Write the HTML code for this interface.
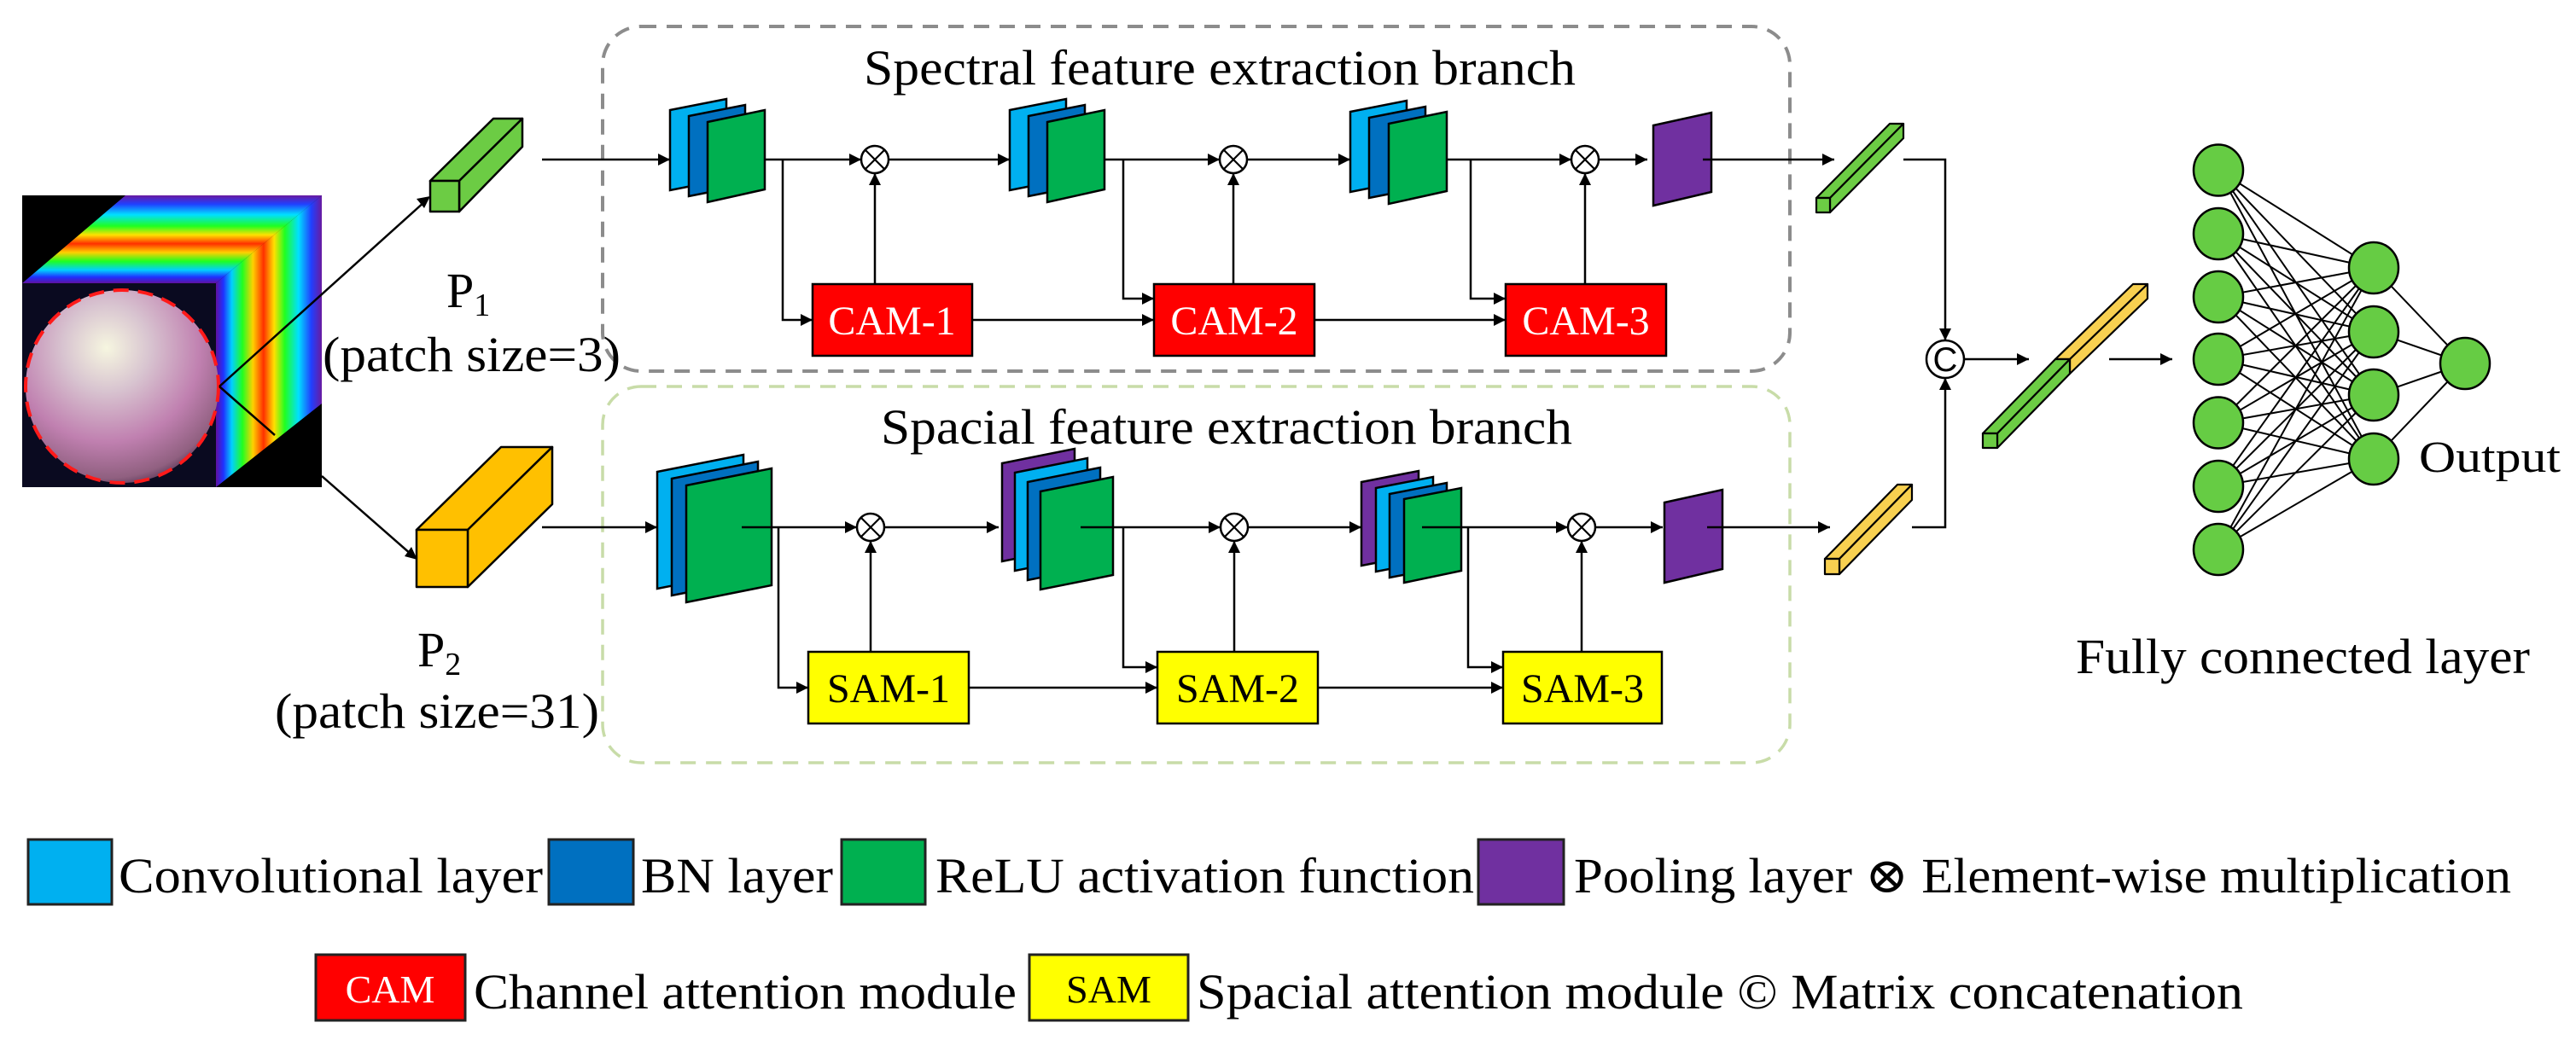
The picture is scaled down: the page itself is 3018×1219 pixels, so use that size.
<!DOCTYPE html>
<html><head><meta charset="utf-8"><style>
html,body{margin:0;padding:0;background:#fff}
svg{display:block}
svg text{font-family:"Liberation Serif","DejaVu Serif",serif;}
</style></head>
<body>
<svg width="3018" height="1219" viewBox="0 0 3018 1219" xmlns="http://www.w3.org/2000/svg">
<defs>
<linearGradient id="topg" x1="0" y1="0" x2="0" y2="1">
<stop offset="0" stop-color="#6a1aa0"/><stop offset="0.1" stop-color="#2040ff"/><stop offset="0.22" stop-color="#00e0ff"/><stop offset="0.35" stop-color="#20ff20"/><stop offset="0.45" stop-color="#ffe000"/><stop offset="0.55" stop-color="#ff3000"/><stop offset="0.65" stop-color="#ffd000"/><stop offset="0.75" stop-color="#20ff20"/><stop offset="0.85" stop-color="#00d0ff"/><stop offset="0.93" stop-color="#2030ff"/><stop offset="1" stop-color="#6010a0"/>
</linearGradient>
<linearGradient id="rightg" x1="1" y1="0" x2="0" y2="0">
<stop offset="0" stop-color="#6a1aa0"/><stop offset="0.1" stop-color="#2040ff"/><stop offset="0.22" stop-color="#00e0ff"/><stop offset="0.35" stop-color="#20ff20"/><stop offset="0.45" stop-color="#ffe000"/><stop offset="0.55" stop-color="#ff3000"/><stop offset="0.65" stop-color="#ffd000"/><stop offset="0.75" stop-color="#20ff20"/><stop offset="0.85" stop-color="#00d0ff"/><stop offset="0.93" stop-color="#2030ff"/><stop offset="1" stop-color="#6010a0"/>
</linearGradient>
<radialGradient id="sph" cx="0.42" cy="0.3" r="0.75">
<stop offset="0" stop-color="#f6f6e0"/><stop offset="0.3" stop-color="#d8c4d0"/><stop offset="0.65" stop-color="#c080b0"/><stop offset="0.9" stop-color="#906080"/><stop offset="1" stop-color="#503050"/>
</radialGradient>
</defs>

<rect x="706" y="31" width="1391" height="404" rx="45" fill="none" stroke="#8c8c8c" stroke-width="4" stroke-dasharray="18 12"/>
<rect x="706" y="453" width="1391" height="441" rx="45" fill="none" stroke="#c8dca8" stroke-width="3.5" stroke-dasharray="18 12"/>

<rect x="26" y="229" width="351" height="342" fill="#000"/>
<polygon points="26,332 253,332 377,229 147,229" fill="url(#topg)"/>
<polygon points="253,332 377,229 377,473 253,571" fill="url(#rightg)"/>
<rect x="26" y="332" width="227" height="239" fill="#0a0a20"/>
<circle cx="143" cy="453" r="113" fill="url(#sph)"/>
<circle cx="143" cy="453" r="113" fill="none" stroke="#ff1a1a" stroke-width="4" stroke-dasharray="18 11"/>

<g stroke="#000" stroke-width="2.5" fill="none">
<line x1="257" y1="453" x2="498" y2="236"/>
<line x1="257" y1="453" x2="322" y2="510"/>
<line x1="377" y1="558" x2="482" y2="650"/>
</g>
<polygon points="504,230 488,233 497,244" fill="#000"/>
<polygon points="489,656 482,641 474,652" fill="#000"/>

<g stroke="#000" stroke-width="2.5" stroke-linejoin="round">
<polygon points="504,212 538,212 612,139 578,139" fill="#6ccc44"/>
<polygon points="538,212 612,139 612,172 538,248" fill="#6ccc44"/>
<rect x="504" y="212" width="34" height="36" fill="#6ccc44"/>
<polygon points="488,621 548,621 647,524 587,524" fill="#ffc000"/>
<polygon points="548,621 647,524 647,591 548,688" fill="#ffc000"/>
<rect x="488" y="621" width="60" height="67" fill="#ffc000"/>
</g>

<text x="523" y="360" font-size="58">P<tspan font-size="38" dy="10">1</tspan></text>
<text x="378" y="435" font-size="58" textLength="349" lengthAdjust="spacingAndGlyphs">(patch size=3)</text>
<text x="489" y="781" font-size="58">P<tspan font-size="38" dy="10">2</tspan></text>
<text x="322" y="853" font-size="58" textLength="380" lengthAdjust="spacingAndGlyphs">(patch size=31)</text>

<text x="1012" y="99" font-size="58" textLength="834" lengthAdjust="spacingAndGlyphs">Spectral feature extraction branch</text>
<text x="1032" y="520" font-size="58" textLength="810" lengthAdjust="spacingAndGlyphs">Spacial feature extraction branch</text>

<g stroke="#000" stroke-width="2.5" stroke-linejoin="miter">
<polygon points="785,129 851,116 851,210 785,223" fill="#00b0f0"/>
<polygon points="807,136 873,123 873,217 807,230" fill="#0070c0"/>
<polygon points="829,143 896,129 896,222 829,237" fill="#00b050"/>
<polygon points="1183,129 1249,116 1249,210 1183,223" fill="#00b0f0"/>
<polygon points="1205,136 1271,123 1271,217 1205,230" fill="#0070c0"/>
<polygon points="1227,143 1294,129 1294,222 1227,237" fill="#00b050"/>
<polygon points="1582,131 1648,118 1648,212 1582,225" fill="#00b0f0"/>
<polygon points="1604,138 1670,125 1670,219 1604,232" fill="#0070c0"/>
<polygon points="1627,145 1695,131 1695,224 1627,239" fill="#00b050"/>
<polygon points="1937,147 2005,132 2005,225 1937,241" fill="#7030a0"/>

<polygon points="770,553 871,533 871,670 770,690" fill="#00b0f0"/>
<polygon points="787,561 888,541 888,678 787,698" fill="#0070c0"/>
<polygon points="804,569 904,549 904,686 804,706" fill="#00b050"/>
<polygon points="1174,543 1259,526 1259,641 1174,658" fill="#7030a0"/>
<polygon points="1189,554 1274,537 1274,652 1189,669" fill="#00b0f0"/>
<polygon points="1204,565 1289,548 1289,663 1204,680" fill="#0070c0"/>
<polygon points="1219,576 1304,559 1304,674 1219,691" fill="#00b050"/>
<polygon points="1595,565 1662,552 1662,650 1595,663" fill="#7030a0"/>
<polygon points="1612,572 1679,559 1679,657 1612,670" fill="#00b0f0"/>
<polygon points="1628,579 1695,566 1695,664 1628,677" fill="#0070c0"/>
<polygon points="1645,585 1712,572 1712,669 1645,683" fill="#00b050"/>
<polygon points="1950,589 2018,574 2018,667 1950,683" fill="#7030a0"/>
</g>

<g stroke="#000" stroke-width="2.5">
<rect x="952" y="333" width="187" height="84" fill="#ff0000"/>
<rect x="1352" y="333" width="188" height="84" fill="#ff0000"/>
<rect x="1764" y="333" width="188" height="84" fill="#ff0000"/>
<rect x="947" y="764" width="188" height="84" fill="#ffff00"/>
<rect x="1356" y="764" width="188" height="84" fill="#ffff00"/>
<rect x="1761" y="764" width="186" height="84" fill="#ffff00"/>
</g>
<g font-size="48" text-anchor="middle">
<text x="1045" y="392" fill="#fff">CAM-1</text>
<text x="1446" y="392" fill="#fff">CAM-2</text>
<text x="1858" y="392" fill="#fff">CAM-3</text>
<text x="1041" y="823" fill="#000">SAM-1</text>
<text x="1450" y="823" fill="#000">SAM-2</text>
<text x="1854" y="823" fill="#000">SAM-3</text>
</g>

<g stroke="#000" stroke-width="2.5" fill="none">
<line x1="635" y1="187" x2="785" y2="187"/>
<line x1="896" y1="187" x2="1009" y2="187"/>
<polyline points="917,187 917,375 952,375"/>
<line x1="1041" y1="187" x2="1183" y2="187"/>
<line x1="1025" y1="333" x2="1025" y2="203"/>
<line x1="1139" y1="375" x2="1352" y2="375"/>
<line x1="1294" y1="187" x2="1429" y2="187"/>
<polyline points="1316,187 1316,350 1352,350"/>
<line x1="1445" y1="333" x2="1445" y2="203"/>
<line x1="1461" y1="187" x2="1582" y2="187"/>
<line x1="1695" y1="187" x2="1841" y2="187"/>
<polyline points="1723,187 1723,350 1764,350"/>
<line x1="1540" y1="375" x2="1764" y2="375"/>
<line x1="1857" y1="333" x2="1857" y2="203"/>
<line x1="1873" y1="187" x2="1930" y2="187"/>
<line x1="1995" y1="187" x2="2149" y2="187"/>
<polyline points="2230,187 2279,187 2279,399"/>
<line x1="635" y1="618" x2="770" y2="618"/>
<line x1="869" y1="618" x2="1004" y2="618"/>
<polyline points="912,618 912,806 947,806"/>
<line x1="1036" y1="618" x2="1170" y2="618"/>
<line x1="1020" y1="764" x2="1020" y2="634"/>
<line x1="1135" y1="806" x2="1356" y2="806"/>
<line x1="1266" y1="618" x2="1430" y2="618"/>
<polyline points="1316,618 1316,782 1356,782"/>
<line x1="1446" y1="764" x2="1446" y2="634"/>
<line x1="1462" y1="618" x2="1595" y2="618"/>
<line x1="1666" y1="618" x2="1837" y2="618"/>
<polyline points="1720,618 1720,782 1761,782"/>
<line x1="1544" y1="806" x2="1761" y2="806"/>
<line x1="1853" y1="764" x2="1853" y2="634"/>
<line x1="1869" y1="618" x2="1948" y2="618"/>
<line x1="2000" y1="618" x2="2144" y2="618"/>
<polyline points="2240,618 2279,618 2279,443"/>
<line x1="2301" y1="421" x2="2377" y2="421"/>
<line x1="2471" y1="421" x2="2545" y2="421"/>
</g>

<g fill="#000">
<polygon points="785,187 771,180 771,194"/>
<polygon points="1009,187 995,180 995,194"/>
<polygon points="952,375 938,368 938,382"/>
<polygon points="1183,187 1169,180 1169,194"/>
<polygon points="1352,375 1338,368 1338,382"/>
<polygon points="1352,350 1338,343 1338,357"/>
<polygon points="1429,187 1415,180 1415,194"/>
<polygon points="1582,187 1568,180 1568,194"/>
<polygon points="1841,187 1827,180 1827,194"/>
<polygon points="1764,350 1750,343 1750,357"/>
<polygon points="1764,375 1750,368 1750,382"/>
<polygon points="1930,187 1916,180 1916,194"/>
<polygon points="2149,187 2135,180 2135,194"/>
<polygon points="770,618 756,611 756,625"/>
<polygon points="1004,618 990,611 990,625"/>
<polygon points="947,806 933,799 933,813"/>
<polygon points="1170,618 1156,611 1156,625"/>
<polygon points="1356,806 1342,799 1342,813"/>
<polygon points="1356,782 1342,775 1342,789"/>
<polygon points="1430,618 1416,611 1416,625"/>
<polygon points="1595,618 1581,611 1581,625"/>
<polygon points="1837,618 1823,611 1823,625"/>
<polygon points="1761,782 1747,775 1747,789"/>
<polygon points="1761,806 1747,799 1747,813"/>
<polygon points="1948,618 1934,611 1934,625"/>
<polygon points="2144,618 2130,611 2130,625"/>
<polygon points="2377,421 2363,414 2363,428"/>
<polygon points="2545,421 2531,414 2531,428"/>
<polygon points="1025,203 1018,217 1032,217"/>
<polygon points="1445,203 1438,217 1452,217"/>
<polygon points="1857,203 1850,217 1864,217"/>
<polygon points="1020,634 1013,648 1027,648"/>
<polygon points="1446,634 1439,648 1453,648"/>
<polygon points="1853,634 1846,648 1860,648"/>
<polygon points="2279,443 2272,457 2286,457"/>
<polygon points="2279,399 2272,385 2286,385"/>
</g>

<g stroke="#000" stroke-width="2.5" fill="#fff">
<circle cx="1025" cy="187" r="16"/><circle cx="1445" cy="187" r="16"/><circle cx="1857" cy="187" r="16"/>
<circle cx="1020" cy="618" r="16"/><circle cx="1446" cy="618" r="16"/><circle cx="1853" cy="618" r="16"/>
<circle cx="2279" cy="421" r="22"/>
</g>
<g stroke="#000" stroke-width="2.2">
<path d="M1014,176 L1036,198 M1036,176 L1014,198"/>
<path d="M1434,176 L1456,198 M1456,176 L1434,198"/>
<path d="M1846,176 L1868,198 M1868,176 L1846,198"/>
<path d="M1009,607 L1031,629 M1031,607 L1009,629"/>
<path d="M1435,607 L1457,629 M1457,607 L1435,629"/>
<path d="M1842,607 L1864,629 M1864,607 L1842,629"/>
</g>
<text x="2279" y="435" font-size="40" text-anchor="middle" style="font-family:'Liberation Sans',sans-serif">C</text>

<g stroke="#000" stroke-width="2.2" stroke-linejoin="round">
<polygon points="2128,232 2144,232 2230,145 2214,145" fill="#6ccc44"/>
<polygon points="2144,232 2230,145 2230,162 2144,249" fill="#6ccc44"/>
<rect x="2128" y="232" width="16" height="17" fill="#6ccc44"/>
<polygon points="2138,655 2155,655 2240,568 2223,568" fill="#f8d050"/>
<polygon points="2155,655 2240,568 2240,586 2155,673" fill="#f8d050"/>
<rect x="2138" y="655" width="17" height="18" fill="#f8d050"/>
<polygon points="2408,421 2425,421 2516,333 2499,333" fill="#f8d050"/>
<polygon points="2425,421 2516,333 2516,350 2425,438" fill="#f8d050"/>
<polygon points="2323,508 2340,508 2425,421 2408,421" fill="#6ccc44"/>
<polygon points="2340,508 2425,421 2425,438 2340,525" fill="#6ccc44"/>
<rect x="2323" y="508" width="17" height="17" fill="#6ccc44"/>
</g>

<g stroke="#000" stroke-width="2">
<path d="M2599,199.5L2781,314M2599,199.5L2781,389M2599,199.5L2781,463M2599,199.5L2781,538
M2599,274L2781,314M2599,274L2781,389M2599,274L2781,463M2599,274L2781,538
M2599,348L2781,314M2599,348L2781,389M2599,348L2781,463M2599,348L2781,538
M2599,421L2781,314M2599,421L2781,389M2599,421L2781,463M2599,421L2781,538
M2599,495.5L2781,314M2599,495.5L2781,389M2599,495.5L2781,463M2599,495.5L2781,538
M2599,570L2781,314M2599,570L2781,389M2599,570L2781,463M2599,570L2781,538
M2599,644L2781,314M2599,644L2781,389M2599,644L2781,463M2599,644L2781,538
M2781,314L2888,426M2781,389L2888,426M2781,463L2888,426M2781,538L2888,426"/>
</g>
<g stroke="#000" stroke-width="2.5" fill="#66cc44">
<ellipse cx="2599" cy="199.5" rx="29" ry="30"/><ellipse cx="2599" cy="274" rx="29" ry="30"/><ellipse cx="2599" cy="348" rx="29" ry="30"/><ellipse cx="2599" cy="421" rx="29" ry="30"/><ellipse cx="2599" cy="495.5" rx="29" ry="30"/><ellipse cx="2599" cy="570" rx="29" ry="30"/><ellipse cx="2599" cy="644" rx="29" ry="30"/>
<ellipse cx="2781" cy="314" rx="29" ry="30"/><ellipse cx="2781" cy="389" rx="29" ry="30"/><ellipse cx="2781" cy="463" rx="29" ry="30"/><ellipse cx="2781" cy="538" rx="29" ry="30"/>
<ellipse cx="2888" cy="426" rx="29" ry="30"/>
</g>
<text x="2834" y="553" font-size="52" textLength="166" lengthAdjust="spacingAndGlyphs">Output</text>
<text x="2432" y="789" font-size="58" textLength="532" lengthAdjust="spacingAndGlyphs">Fully connected layer</text>

<g stroke="#222" stroke-width="3">
<rect x="33" y="984" width="98" height="76" fill="#00b0f0"/>
<rect x="643" y="984" width="99" height="76" fill="#0070c0"/>
<rect x="986" y="984" width="98" height="76" fill="#00b050"/>
<rect x="1732" y="984" width="100" height="76" fill="#7030a0"/>
<rect x="370" y="1119" width="175" height="77" fill="#ff0000"/>
<rect x="1206" y="1119" width="186" height="77" fill="#ffff00"/>
</g>
<g font-size="58">
<text x="139" y="1046" textLength="497" lengthAdjust="spacingAndGlyphs">Convolutional layer</text>
<text x="751" y="1046" textLength="225" lengthAdjust="spacingAndGlyphs">BN layer</text>
<text x="1096" y="1046" textLength="631" lengthAdjust="spacingAndGlyphs">ReLU activation function</text>
<text x="1844" y="1046" textLength="1098" lengthAdjust="spacingAndGlyphs">Pooling layer ⊗ Element-wise multiplication</text>
<text x="555" y="1182" textLength="636" lengthAdjust="spacingAndGlyphs">Channel attention module</text>
<text x="1402" y="1182" textLength="1226" lengthAdjust="spacingAndGlyphs">Spacial attention module © Matrix concatenation</text>
</g>
<text x="457" y="1175" font-size="46" fill="#fff" text-anchor="middle">CAM</text>
<text x="1299" y="1175" font-size="46" fill="#000" text-anchor="middle">SAM</text>
</svg>
</body></html>
